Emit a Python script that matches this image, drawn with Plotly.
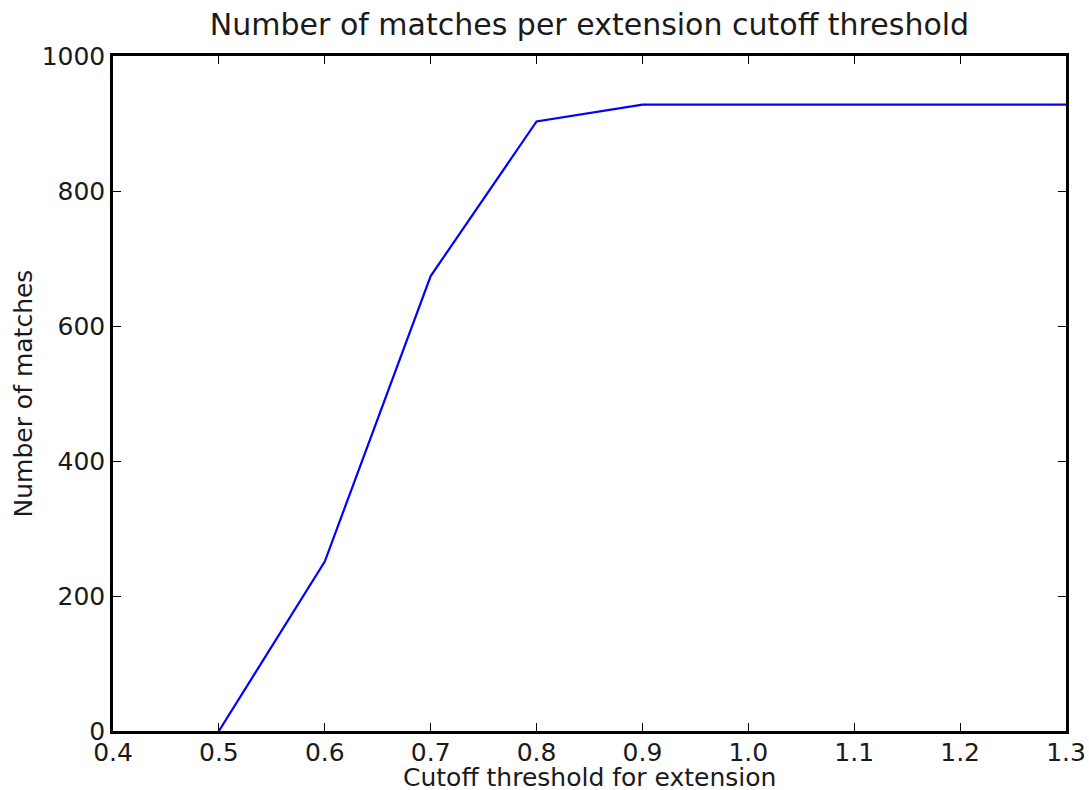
import plotly.graph_objects as go

thresholds = [0.5, 0.6, 0.7, 0.8, 0.9, 1.0, 1.1, 1.2, 1.3]
matches = [0, 251, 674, 903, 928, 928, 928, 928, 928]

x_ticks = [0.4, 0.5, 0.6, 0.7, 0.8, 0.9, 1.0, 1.1, 1.2, 1.3]
x_tick_labels = ["0.4", "0.5", "0.6", "0.7", "0.8", "0.9", "1.0", "1.1", "1.2", "1.3"]
y_ticks = [0, 200, 400, 600, 800, 1000]

font = "DejaVu Sans"
txt = "#1a1a1a"

fig = go.Figure()
fig.add_trace(go.Scatter(x=thresholds, y=matches, mode="lines",
                         line=dict(color="#0000ff", width=2.2)))

axis_common = dict(
    showgrid=False, zeroline=False, showline=True, linecolor="black", linewidth=2.5,
    mirror="ticks", ticks="inside", ticklen=8, tickwidth=1.2, tickcolor="black",
    tickfont=dict(family=font, size=25, color=txt), automargin=False,
)

fig.update_layout(
    width=1089, height=790,
    margin=dict(l=113, r=23, t=56, b=59),
    paper_bgcolor="white", plot_bgcolor="white",
    showlegend=False,
    title=dict(text="Number of matches per extension cutoff threshold",
               x=0.5, xanchor="center", xref="paper", y=1 - 24 / 790, yanchor="middle",
               yref="container",
               font=dict(family=font, size=30, color=txt)),
    xaxis=dict(range=[0.4, 1.3], tickvals=x_ticks, ticktext=x_tick_labels,
               ticklabelstandoff=-3, **axis_common),
    yaxis=dict(range=[0, 1000], tickvals=y_ticks, **axis_common),
    annotations=[
        dict(text="Cutoff threshold for extension", xref="paper", yref="paper",
             x=0.5, y=0, xanchor="center", yanchor="middle", yshift=-46,
             showarrow=False, font=dict(family=font, size=25, color=txt)),
        dict(text="Number of matches", xref="paper", yref="paper",
             x=0, y=0.5, xanchor="center", yanchor="middle", xshift=-90, textangle=-90,
             showarrow=False, font=dict(family=font, size=25, color=txt)),
    ],
)

fig.write_html("out.html", config={"displayModeBar": False},
               post_script="document.body.style.margin='0';document.body.style.padding='0';")
